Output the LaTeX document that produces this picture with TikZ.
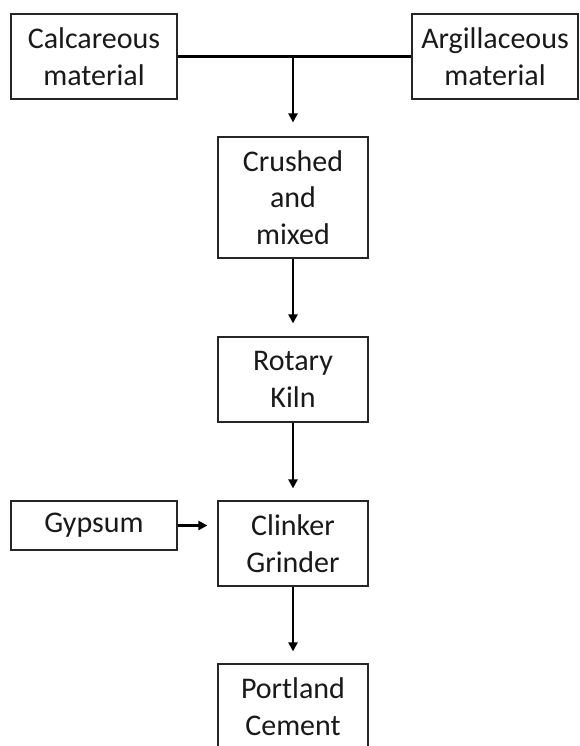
\documentclass[tikz,border=0pt]{standalone}
\usepackage{fontspec}
\setmainfont{Carlito}
\usetikzlibrary{arrows.meta}
\begin{document}
\begin{tikzpicture}[x=1pt,y=-1pt,
  box/.style={draw=black!85,line width=1.2pt,rectangle,align=center,inner sep=0pt,
    font=\fontsize{30}{36.5}\selectfont,text=black!90},
  conn/.style={line width=2.4pt,draw=black},
  flow/.style={conn,-{Triangle[length=9pt,width=9pt]}}]
\useasboundingbox (0,0) rectangle (579,746);
\clip (0,0) rectangle (579,746);
\node[box,minimum width=166pt,minimum height=85pt] (calc) at (94,56.5) {Calcareous\\material};
\node[box,minimum width=166pt,minimum height=85pt] (arg) at (495,56.5) {Argillaceous\\material};
\node[box,minimum width=150pt,minimum height=121pt] (crush) at (293,197.5) {Crushed\\and\\mixed};
\node[box,minimum width=150pt,minimum height=85pt] (kiln) at (293,379.5) {Rotary\\Kiln};
\node[box,minimum width=150pt,minimum height=85pt] (clink) at (293,543.5) {Clinker\\Grinder};
\node[box,minimum width=166pt,minimum height=49pt] (gyp) at (94,525.5) {\raisebox{-3pt}{Gypsum}};
\node[box,minimum width=150pt,minimum height=85pt] (port) at (293,706.5) {Portland\\Cement};
\coordinate (j) at (293,56);
\draw[conn] (calc.east) -- (arg.west);
\draw[flow,shorten >=14pt] (j) -- (crush.north);
\draw[flow,shorten >=13pt] (crush.south) -- (kiln.north);
\draw[flow,shorten >=12pt] (kiln.south) -- (clink.north);
\draw[flow,shorten >=12pt] (clink.south) -- (port.north);
\draw[flow,shorten >=10pt] (gyp.east) -- (gyp.east -| clink.west);
\end{tikzpicture}
\end{document}
